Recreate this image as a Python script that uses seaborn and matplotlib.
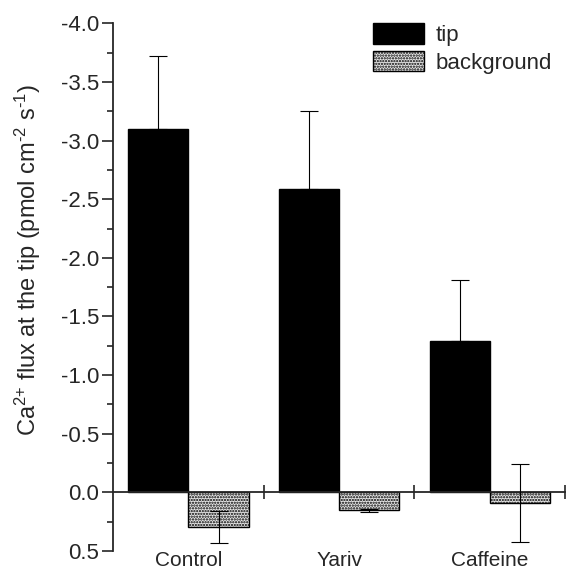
import numpy as np
import pandas as pd
import matplotlib
matplotlib.use('Agg')
import matplotlib.pyplot as plt
import seaborn as sns

# datos
grupos = ['Control', 'Yariv', 'Caffeine']
series = ['tip', 'background']
tip = [-3.10, -2.59, -1.29]
tip_err = [0.62, 0.66, 0.52]
fondo = [0.295, 0.153, 0.09]
fondo_err = [0.135, 0.014, 0.335]

df = pd.DataFrame({
    'grupo': grupos * 2,
    'serie': ['tip'] * 3 + ['background'] * 3,
    'flux': tip + fondo,
})

sns.set_style('ticks')
plt.rcParams['font.family'] = ['Liberation Sans', 'DejaVu Sans']
plt.rcParams['axes.unicode_minus'] = False
plt.rcParams['mathtext.fontset'] = 'custom'
plt.rcParams['mathtext.rm'] = 'Liberation Sans'
plt.rcParams['mathtext.default'] = 'regular'
plt.rcParams['hatch.linewidth'] = 1.1
fs = 16
gris = '#e6e6e6'
punteado = '......'

fig = plt.figure(figsize=(5.68, 5.69), dpi=100)
ax = fig.add_axes([0.199, 0.0316, 0.796, 0.9274])

sns.barplot(data=df, x='grupo', y='flux', hue='serie', hue_order=series,
            palette={'tip': 'black', 'background': gris},
            width=0.8, errorbar=None, edgecolor='black', linewidth=1.0, ax=ax)

# punteado para el fondo
for b in ax.containers[1]:
    b.set_hatch(punteado)

xt = [b.get_x() + b.get_width() / 2 for b in ax.containers[0]]
xb = [b.get_x() + b.get_width() / 2 for b in ax.containers[1]]
ax.errorbar(xt, tip, yerr=[tip_err, np.zeros(3)], fmt='none', ecolor='black',
            elinewidth=0.8, capsize=6.5, capthick=0.8, zorder=0.5)
ax.errorbar(xb, fondo, yerr=fondo_err, fmt='none', ecolor='black',
            elinewidth=0.8, capsize=6.5, capthick=0.8, zorder=3)

ax.set_xlim(-0.5, 2.5)
ax.set_ylim(0.5, -4.0)
ax.set_yticks(np.arange(-4.0, 0.51, 0.5))
ax.set_yticks(np.arange(-3.75, 0.5, 0.5), minor=True)
ax.yaxis.set_major_formatter(matplotlib.ticker.FormatStrFormatter('%.1f'))
ax.tick_params(axis='y', which='major', length=8, width=1.2, labelsize=fs, pad=2)
ax.tick_params(axis='y', which='minor', length=4, width=1.2)

# eje x en cero
for s in ['top', 'right']:
    ax.spines[s].set_visible(False)
ax.spines['left'].set_linewidth(1.3)
ax.spines['bottom'].set_position(('data', 0))
ax.spines['bottom'].set_linewidth(1.3)
ax.set_xticks([0.5, 1.5, 2.5], ['', '', ''])
ax.tick_params(axis='x', direction='inout', length=10, width=1.2)
ax.set_xlabel('')

sec = ax.secondary_xaxis(0)
sec.set_xticks([0, 1, 2], grupos)
sec.tick_params(length=0, labelsize=15, pad=0)
sec.spines['bottom'].set_visible(False)

ax.set_ylabel(r'Ca$^{2\text{+}}$ flux at the tip (pmol cm$^{\text{-2}}$ s$^{\text{-1}}$)', fontsize=17)
ax.yaxis.set_label_coords(-0.155, 0.551)

h, l = ax.get_legend_handles_labels()
h[1].set_hatch(punteado)
ax.legend(h, l, loc='upper left', bbox_to_anchor=(0.575, 1.0), frameon=False,
          fontsize=fs, handlelength=2.3, handleheight=1.05, labelspacing=0.2,
          handletextpad=0.5, borderpad=0, borderaxespad=0)

fig.savefig('out.png', dpi=100)
